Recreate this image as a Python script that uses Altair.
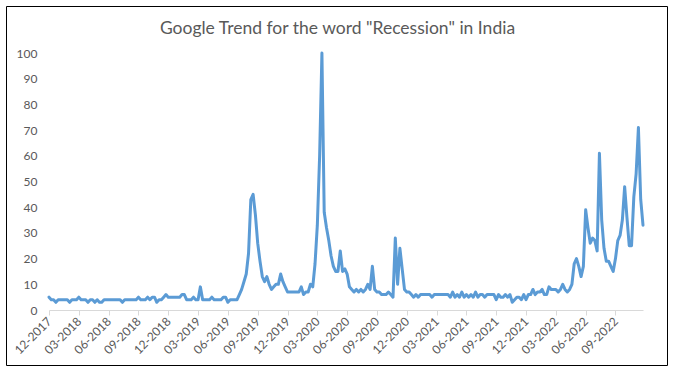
import altair as alt
import pandas as pd

title_text = 'Google Trend for the word "Recession" in India'

quarter_labels = ["12-2017", "03-2018", "06-2018", "09-2018", "12-2018",
                  "03-2019", "06-2019", "09-2019", "12-2019", "03-2020",
                  "06-2020", "09-2020", "12-2020", "03-2021", "06-2021",
                  "09-2021", "12-2021", "03-2022", "06-2022", "09-2022"]
weeks_per_label = 13

# weekly Google Trends interest (0-100)
trend_2018_2019 = [5, 4, 4, 3, 4, 4, 4, 4, 4, 3, 4, 4, 4, 5, 4, 4, 4, 3, 4, 4,
                   3, 4, 3, 3, 4, 4, 4, 4, 4, 4, 4, 4, 3, 4, 4, 4, 4, 4, 4, 5,
                   4, 4, 4, 5, 4, 5, 5, 3, 4, 4, 5, 6, 5, 5, 5, 5, 5, 5, 6, 6,
                   4, 4, 4, 5, 4, 4, 9, 4, 4, 4, 4, 5, 4, 4, 4, 4, 5, 5, 3, 4,
                   4, 4, 4]
trend_2019_2020 = [6, 8, 11, 14, 22, 43, 45, 37, 26, 19,
                   13, 11, 13, 10, 8, 9, 10, 10, 14, 11,
                   9, 7, 7, 7, 7, 7, 7, 9, 6, 7,
                   7, 10, 9, 18, 33, 60, 100, 38, 32, 27,
                   21, 17, 15, 15, 23, 15, 16, 14, 9, 8,
                   7, 8, 7, 8, 7, 8, 10, 8, 17, 8,
                   7, 7, 6, 6, 6, 7, 6, 5, 28, 10,
                   24, 16, 8, 7, 7, 6, 5, 6, 5, 6,
                   6, 6, 6]
trend_2021 = [6, 5, 6, 6, 6, 6, 6, 6, 6, 5, 7, 5, 6, 5, 7, 5, 6, 5, 6, 5,
              7, 5, 6, 6, 5, 6, 6, 6, 6, 4, 6, 5, 5, 6, 5, 6, 3, 4, 5, 5,
              4, 6, 4, 6, 6, 8, 6, 7, 7, 8]
trend_2022 = [6, 6, 9, 8, 8, 8, 7, 8, 10, 8, 7, 8, 10, 18, 20, 17, 13, 17, 39, 32,
              26, 28, 27, 23, 61, 35, 24, 19, 19, 17, 15, 20, 27, 29, 35, 48, 36, 25, 25, 44,
              53, 71, 43, 33]

values = trend_2018_2019 + trend_2019_2020 + trend_2021 + trend_2022
df = pd.DataFrame({"week": list(range(len(values))), "interest": values})

tick_values = [i * weeks_per_label for i in range(len(quarter_labels))]
label_expr = ("[" + ",".join("'" + s + "'" for s in quarter_labels) + "]"
              + "[round(datum.value / " + str(weeks_per_label) + ")]")

grey = "#595959"
font = "Lato"

line = alt.Chart(df).mark_line(
    color="#5B9BD5", strokeWidth=3, strokeJoin="round", strokeCap="round"
).encode(
    x=alt.X("week:Q",
            scale=alt.Scale(domain=[0, len(values) - 1], nice=False, zero=False),
            axis=alt.Axis(values=tick_values, labelExpr=label_expr, labelAngle=-45,
                          labelAlign="right", labelBaseline="middle", labelPadding=4,
                          tickSize=5, tickColor="#D9D9D9", domainColor="#D9D9D9",
                          grid=False, title=None, labelColor=grey, labelFont=font,
                          labelFontSize=12, labelOverlap=False, labelBound=False)),
    y=alt.Y("interest:Q",
            scale=alt.Scale(domain=[0, 100], nice=False),
            axis=alt.Axis(values=list(range(0, 101, 10)), grid=False, domain=False,
                          ticks=False, labelPadding=12, title=None, labelColor=grey,
                          labelFont=font, labelFontSize=12))
)

one_row = pd.DataFrame({"title": [title_text]})

border = alt.Chart(one_row).mark_rect(
    fill="transparent", stroke="#000000", strokeWidth=1
).encode(
    x=alt.value(-42.5), x2=alt.value(618.5), y=alt.value(-46.5), y2=alt.value(312.5)
)

title = alt.Chart(one_row).mark_text(
    font=font, fontSize=17.5, color=grey, align="center", baseline="alphabetic"
).encode(
    text="title:N", x=alt.value(288.5), y=alt.value(-19)
)

chart = alt.layer(border, title, line).properties(
    width=594, height=257,
    autosize=alt.AutoSizeParams(type="none"),
    padding={"left": 49, "top": 53, "right": 32, "bottom": 64},
    background="white"
).configure_view(stroke=None)

chart.save("out.html", embed_options={"renderer": "svg", "actions": False})
